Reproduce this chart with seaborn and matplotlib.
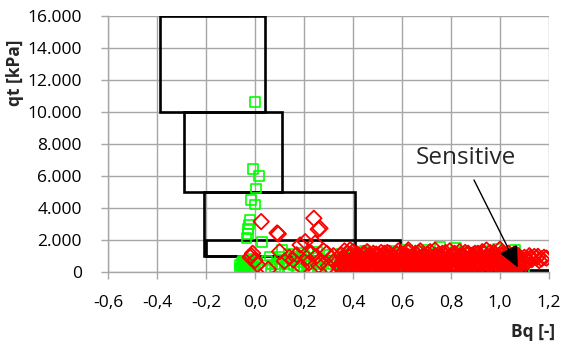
import matplotlib
matplotlib.use("Agg")
import matplotlib.pyplot as plt
import matplotlib.ticker as mticker
from matplotlib.patches import Rectangle
import seaborn as sns
import pandas as pd

# ---------------- data (Bq, qt) ----------------
green_upper = [(0.00, 10600), (-0.01, 6400), (0.015, 6000), (0.005, 5200), (-0.015, 4500),
               (0.00, 4200), (-0.02, 3250), (-0.025, 2950), (-0.03, 2650), (-0.03, 2350),
               (-0.035, 2100), (0.03, 1880)]
green_left = [(-0.05, 300), (-0.04, 600), (-0.03, 250), (-0.05, 700), (-0.02, 450),
              (-0.06, 150), (-0.01, 800), (-0.035, 350), (0.00, 500), (-0.045, 500),
              (-0.055, 550), (-0.025, 100), (-0.055, 250), (-0.045, 400), (-0.035, 650),
              (-0.025, 300), (-0.015, 600), (-0.05, 450), (-0.04, 200), (-0.03, 500),
              (-0.02, 750), (-0.06, 400), (-0.01, 300), (-0.005, 150)]
green_mid = [(0.05, 700), (0.08, 300), (0.10, 900), (0.12, 600), (0.14, 1100), (0.16, 400),
             (0.18, 800), (0.20, 1000), (0.22, 500), (0.24, 850), (0.26, 300), (0.28, 700),
             (0.30, 1050), (0.32, 450), (0.11, 1350), (0.065, 150), (0.135, 250), (0.175, 600),
             (0.215, 200), (0.255, 1250), (0.295, 150), (0.265, 500), (0.19, 1150), (0.09, 500),
             (0.23, 700), (0.07, 450), (0.10, 200), (0.13, 450), (0.15, 750), (0.17, 150),
             (0.20, 350), (0.25, 600), (0.27, 150), (0.31, 250), (0.33, 750), (0.06, 950),
             (0.16, 950), (0.21, 750)]
green_right = [(0.36, 900), (0.38, 400), (0.40, 1200), (0.42, 650), (0.44, 300), (0.46, 1100),
               (0.47, 1190), (0.49, 500), (0.52, 100), (0.54, 800), (0.57, 1050), (0.60, 350),
               (0.62, 1350), (0.65, 700), (0.68, 1250), (0.71, 450), (0.74, 1100), (0.755, 1540),
               (0.78, 600), (0.82, 1480), (0.85, 300), (0.88, 1200), (0.91, 800), (0.94, 1300),
               (0.97, 450), (1.00, 1100), (1.03, 900), (1.06, 1350), (1.08, 600), (1.10, 100),
               (0.43, 1000), (0.56, 1300), (0.70, 1380), (0.84, 1250), (0.99, 1400),
               (0.35, 1100), (0.37, 150), (0.45, 1300)]

red_upper = [(0.025, 3130), (0.09, 2420), (0.095, 2360), (0.24, 3340), (0.258, 2650),
             (0.265, 2710), (0.205, 1875), (0.245, 1775), (0.388, 1360), (0.483, 1150),
             (0.626, 1360)]
red_left = [(-0.02, 900), (-0.01, 1150), (0.00, 700), (-0.015, 1000), (0.01, 450), (0.054, 150),
            (0.10, 1250), (0.12, 650), (0.156, 730), (0.184, 1670), (0.21, 840), (0.17, 1050),
            (0.19, 300), (0.22, 550), (0.23, 1150), (0.25, 950), (0.27, 600), (0.28, 1300),
            (0.293, 1150), (0.30, 350), (0.31, 850), (0.32, 1000), (0.33, 500), (0.347, 310),
            (0.14, 900), (0.26, 400)]
red_dense = [(0.35, 300), (0.352, 1050), (0.36, 700), (0.37, 150), (0.372, 550), (0.38, 950),
             (0.39, 400), (0.40, 1250), (0.41, 100), (0.415, 750), (0.42, 600), (0.43, 850),
             (0.44, 250), (0.445, 1150), (0.45, 500), (0.46, 150), (0.47, 700), (0.475, 950),
             (0.48, 350), (0.49, 800), (0.50, 100), (0.505, 1050), (0.51, 600), (0.52, 250),
             (0.53, 850), (0.535, 500), (0.54, 1200), (0.55, 150), (0.56, 700), (0.565, 950),
             (0.57, 400), (0.58, 1100), (0.59, 300), (0.595, 800), (0.60, 600), (0.61, 200),
             (0.62, 1000), (0.625, 450), (0.63, 750), (0.64, 100), (0.65, 350), (0.655, 1150),
             (0.66, 600), (0.67, 850), (0.68, 150), (0.685, 500), (0.69, 1000), (0.70, 300),
             (0.71, 700), (0.715, 1250), (0.72, 100), (0.73, 900), (0.74, 450), (0.745, 650),
             (0.75, 1100), (0.76, 250), (0.77, 800), (0.775, 550), (0.78, 1000), (0.79, 150),
             (0.80, 400), (0.805, 700), (0.81, 950), (0.82, 250), (0.83, 600), (0.835, 1250),
             (0.84, 450), (0.85, 100), (0.86, 800), (0.865, 1050), (0.87, 350), (0.88, 650),
             (0.89, 150), (0.895, 900), (0.90, 500), (0.91, 1150), (0.92, 300), (0.925, 750),
             (0.93, 100), (0.94, 600), (0.95, 950), (0.955, 400), (0.96, 1200), (0.97, 250),
             (0.98, 700), (0.985, 500), (0.99, 150), (1.00, 850), (1.01, 1050), (1.015, 300),
             (1.02, 600), (1.03, 400), (1.04, 800), (1.045, 200), (1.05, 950), (1.06, 550),
             (1.07, 300), (1.075, 750)]
red_fill = [(0.365, 1300), (0.425, 1000), (0.455, 350), (0.515, 1200), (0.545, 900),
            (0.585, 1300), (0.615, 950), (0.645, 750), (0.675, 1300), (0.705, 550),
            (0.735, 1350), (0.765, 850), (0.795, 1300), (0.825, 900), (0.855, 650),
            (0.885, 1000), (0.915, 550), (0.945, 1350), (0.975, 1200), (1.005, 1000),
            (1.035, 1150), (1.065, 1100), (0.395, 600), (0.495, 450), (0.605, 850),
            (0.725, 350), (0.815, 450), (0.935, 800), (1.025, 650), (0.44, 350),
            (0.66, 250), (0.88, 200), (0.57, 300), (0.77, 200), (0.97, 200), (0.35, 200),
            (0.52, 150), (1.00, 1400)]
red_pack = [(0.355, 500), (0.365, 850), (0.375, 300), (0.385, 650), (0.395, 1050), (0.405, 200),
            (0.41, 900), (0.42, 400), (0.435, 600), (0.44, 1050), (0.45, 800), (0.46, 450),
            (0.465, 1000), (0.475, 250), (0.485, 600), (0.495, 1100), (0.50, 400), (0.51, 850),
            (0.52, 650), (0.525, 1000), (0.53, 300), (0.545, 650), (0.55, 450), (0.555, 1050),
            (0.565, 200), (0.575, 750), (0.58, 550), (0.59, 1000), (0.60, 150), (0.61, 700),
            (0.615, 450), (0.625, 1200), (0.635, 250), (0.64, 900), (0.65, 550), (0.66, 1050),
            (0.67, 400), (0.675, 700), (0.685, 950), (0.69, 200), (0.70, 850), (0.705, 1100),
            (0.715, 400), (0.72, 650), (0.73, 200), (0.735, 1000), (0.745, 300), (0.755, 800),
            (0.76, 550), (0.765, 1150), (0.775, 350), (0.785, 700), (0.79, 900), (0.80, 200),
            (0.81, 550), (0.815, 1150), (0.825, 350), (0.83, 800), (0.845, 650), (0.85, 950),
            (0.855, 250), (0.86, 500), (0.87, 1150), (0.875, 750), (0.885, 450), (0.89, 1050),
            (0.90, 300), (0.905, 700), (0.91, 150), (0.92, 950), (0.925, 500), (0.935, 1100),
            (0.94, 300), (0.95, 700), (0.96, 500), (0.965, 900), (0.975, 400), (0.98, 1050),
            (0.99, 600), (0.995, 300), (1.005, 700), (1.01, 450), (1.02, 900), (1.025, 200),
            (1.03, 750), (1.04, 500), (1.045, 1000), (1.05, 350), (1.055, 700), (1.06, 150),
            (1.065, 850), (1.07, 500), (1.075, 1000), (1.08, 650), (1.08, 350)]
red_pack2 = [(0.358, 900), (0.368, 420), (0.378, 1150), (0.388, 250), (0.398, 800), (0.408, 520),
             (0.418, 1100), (0.428, 180), (0.438, 820), (0.448, 620), (0.458, 1250), (0.468, 380),
             (0.478, 820), (0.488, 180), (0.498, 980), (0.508, 320), (0.518, 780), (0.528, 1150),
             (0.538, 150), (0.548, 1150), (0.558, 380), (0.568, 620), (0.578, 180), (0.588, 880),
             (0.598, 1100), (0.608, 420), (0.618, 620), (0.628, 920), (0.638, 520), (0.648, 1000),
             (0.658, 180), (0.668, 1200), (0.678, 420), (0.688, 720), (0.698, 520), (0.708, 180),
             (0.718, 920), (0.728, 620), (0.738, 800), (0.748, 150), (0.758, 1000), (0.768, 420),
             (0.778, 1200), (0.788, 250), (0.798, 850), (0.808, 1100), (0.818, 680), (0.828, 150),
             (0.838, 1000), (0.848, 380), (0.858, 1200), (0.868, 620), (0.878, 220), (0.888, 820),
             (0.898, 1150), (0.908, 420), (0.918, 680), (0.928, 1250), (0.938, 180), (0.948, 480),
             (0.958, 750), (0.968, 1050), (0.978, 120), (0.988, 880), (0.998, 520), (1.008, 1200),
             (1.018, 180), (1.028, 980), (1.038, 280), (1.048, 620), (1.058, 1100), (1.068, 180),
             (1.078, 500), (1.085, 850), (1.085, 200)]
red_right = [(1.09, 700), (1.10, 900), (1.11, 800), (1.115, 650), (1.12, 1000), (1.13, 750),
             (1.14, 950), (1.15, 850), (1.16, 700), (1.17, 800), (1.18, 900), (1.19, 850),
             (1.10, 600), (1.125, 880), (1.155, 960)]

# zone boxes (Bq from / to, qt from / to)
box_bq_lo = [-0.39, -0.29, -0.21, -0.20, 0.60]
box_bq_hi = [0.04, 0.11, 0.41, 0.59, 1.20]
box_qt_lo = [10000, 5000, 950, 950, 0]
box_qt_hi = [16000, 10000, 5000, 1950, 110]

x_ticks = [-0.6, -0.4, -0.2, 0.0, 0.2, 0.4, 0.6, 0.8, 1.0, 1.2]
y_ticks = [0, 2000, 4000, 6000, 8000, 10000, 12000, 14000, 16000]

note_text = "Sensitive"
note_pos = (0.86, 7100)
arrow_tail = (0.894, 5730)
arrow_tip = (1.073, 260)

# ---------------- plot ----------------
sns.set_style("white")
plt.rcParams["font.family"] = ["Open Sans", "DejaVu Sans"]

fig = plt.figure(figsize=(5.63, 3.47), dpi=100)
ax = fig.add_axes([0.192, 0.217, 0.783, 0.738])

green_pts = green_upper + green_left + green_mid + green_right
red_pts = red_upper + red_left + red_dense + red_fill + red_pack + red_pack2 + red_right
green_df = pd.DataFrame(green_pts, columns=["Bq", "qt"])
red_df = pd.DataFrame(red_pts, columns=["Bq", "qt"])

sns.scatterplot(data=green_df, x="Bq", y="qt", ax=ax, marker="s", s=50,
                facecolors="none", edgecolor="#00ff00", linewidth=1.2, zorder=3)
sns.scatterplot(data=red_df, x="Bq", y="qt", ax=ax, marker="D", s=62,
                facecolors="none", edgecolor="#ff0000", linewidth=1.3, zorder=4)

for x0, x1, y0, y1 in zip(box_bq_lo, box_bq_hi, box_qt_lo, box_qt_hi):
    ax.add_patch(Rectangle((x0, y0), x1 - x0, y1 - y0, fill=False,
                           edgecolor="black", linewidth=1.9, zorder=2))

ax.annotate("", xy=arrow_tip, xytext=arrow_tail, zorder=6,
            arrowprops=dict(arrowstyle="-|>,head_length=1.3,head_width=0.6",
                            color="black", linewidth=1.0, shrinkA=0, shrinkB=0))
ax.text(note_pos[0], note_pos[1], note_text, fontsize=17.5, ha="center", va="center", zorder=6)

ax.set_xlim(-0.6, 1.2)
ax.set_ylim(0, 16000)
ax.set_xticks(x_ticks)
ax.set_yticks(y_ticks)
ax.xaxis.set_major_formatter(mticker.FuncFormatter(lambda v, p: f"{v:.1f}".replace(".", ",").replace("−", "-")))
ax.yaxis.set_major_formatter(mticker.FuncFormatter(lambda v, p: f"{int(round(v)):,}".replace(",", ".")))

ax.grid(True, color="#a6a6a6", linewidth=1.0, zorder=0)
ax.set_axisbelow(True)
for side in ["top", "right"]:
    ax.spines[side].set_visible(False)
for side in ["left", "bottom"]:
    ax.spines[side].set_color("#a6a6a6")
    ax.spines[side].set_linewidth(1.0)

ax.tick_params(axis="both", labelsize=12.5, colors="#a6a6a6", labelcolor="black",
               length=5, width=1.0, direction="out")
ax.tick_params(axis="x", pad=12)
ax.tick_params(axis="y", pad=14, length=5)
ax.xaxis.set_ticks_position("bottom")
ax.yaxis.set_ticks_position("left")

ax.set_xlabel("Bq [-]", fontsize=12.5, fontweight="bold")
ax.set_ylabel("qt [kPa]", fontsize=12.5, fontweight="bold")
ax.xaxis.set_label_coords(0.964, -0.2)
ax.yaxis.set_label_coords(-0.19, 0.776)

fig.savefig("out.png", dpi=100)
